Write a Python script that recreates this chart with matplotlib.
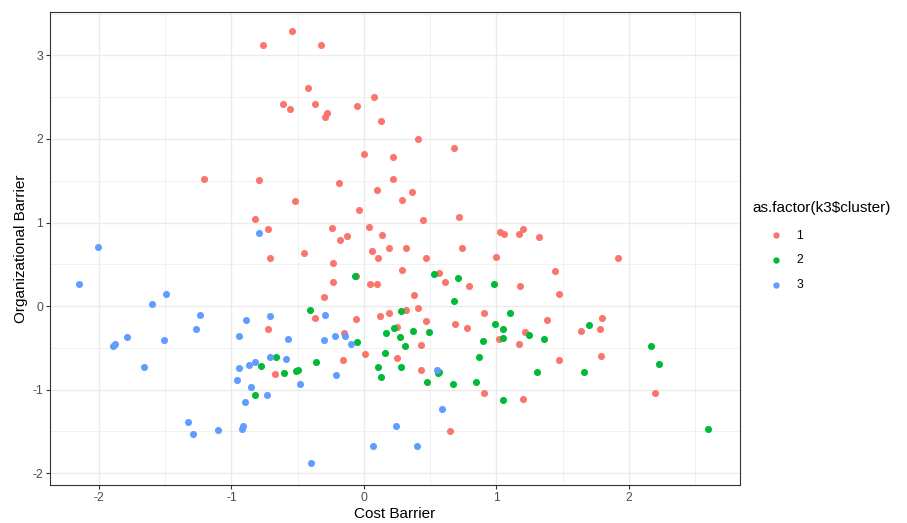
import matplotlib
matplotlib.use("Agg")
import matplotlib.pyplot as plt
from matplotlib.ticker import MultipleLocator

plt.rcParams['font.family'] = ['Liberation Sans', 'DejaVu Sans']
plt.rcParams['axes.unicode_minus'] = False

# cluster 1 (red)
c1_x = [-0.76, -1.21, -0.79, -0.82, -0.72, -0.71, -0.54, -0.32, -0.42, -0.61,
        -0.56, -0.37, -0.28, -0.29, -0.05, 0.08, 0.13, 0.41, 0.68, 0.00,
        0.22, -0.19, 0.22, 0.10, 0.36, 0.29, -0.52, -0.04, 0.45, 0.72,
        -0.24, 0.04, -0.18, -0.13, 0.14, -0.45, 0.06, 0.19, 0.32, 0.74,
        1.03, 1.06, 1.17, 1.20, 1.32, 1.00, 1.92, 0.11, 0.47, -0.23,
        -0.23, -0.06, 0.05, 0.10, 0.29, 0.57, 0.61, 0.79, -0.30, 0.38,
        -0.37, -0.06, 0.12, 0.19, 0.32, 0.41, 0.47, 0.69, 0.78, 0.91,
        1.02, -0.72, -0.15, 0.25, 0.43, 0.01, 0.25, -0.16, -0.67, 0.43,
        0.91, 0.65, 1.44, 1.18, 1.47, 1.38, 1.22, 1.17, 1.64, 1.78,
        1.80, 1.47, 1.79, 1.20, 2.20]
c1_y = [3.12, 1.52, 1.51, 1.04, 0.92, 0.57, 3.29, 3.12, 2.61, 2.42,
        2.36, 2.42, 2.31, 2.26, 2.40, 2.50, 2.22, 2.00, 1.89, 1.82,
        1.78, 1.47, 1.52, 1.39, 1.37, 1.27, 1.26, 1.15, 1.03, 1.07,
        0.94, 0.95, 0.79, 0.84, 0.85, 0.63, 0.66, 0.69, 0.70, 0.70,
        0.89, 0.86, 0.86, 0.92, 0.83, 0.59, 0.58, 0.57, 0.57, 0.52,
        0.29, 0.36, 0.26, 0.27, 0.43, 0.40, 0.29, 0.24, 0.11, 0.13,
        -0.14, -0.16, -0.12, -0.08, -0.05, -0.02, -0.18, -0.22, -0.26, -0.08,
        -0.40, -0.27, -0.32, -0.25, -0.47, -0.57, -0.62, -0.64, -0.81, -0.76,
        -1.04, -1.50, 0.42, 0.24, 0.15, -0.17, -0.31, -0.46, -0.30, -0.27,
        -0.14, -0.64, -0.60, -1.11, -1.04]

# cluster 2 (green)
c2_x = [-0.66, -0.78, -0.82, -0.07, 0.53, 0.71, 0.98, 0.68, -0.41, 0.28,
        0.99, 0.23, 0.17, 0.27, 0.37, 0.49, 0.31, 0.90, 0.16, -0.05,
        -0.36, -0.60, -0.51, -0.50, 0.11, 0.13, 0.28, 0.48, 0.56, 0.57,
        0.67, 0.85, 0.87, 1.10, 1.05, 1.25, 1.05, 1.36, 1.70, 1.31,
        1.66, 2.17, 2.23, 1.05, 2.60]
c2_y = [-0.61, -0.72, -1.07, 0.36, 0.38, 0.34, 0.27, 0.06, -0.05, -0.06,
        -0.21, -0.26, -0.32, -0.37, -0.30, -0.31, -0.48, -0.42, -0.56, -0.43,
        -0.67, -0.80, -0.78, -0.76, -0.73, -0.85, -0.73, -0.91, -0.80, -0.79,
        -0.93, -0.91, -0.61, -0.08, -0.27, -0.35, -0.38, -0.40, -0.23, -0.79,
        -0.79, -0.48, -0.69, -1.13, -1.47]

# cluster 3 (blue)
c3_x = [-0.79, -2.01, -2.15, -1.49, -1.60, -1.24, -1.27, -0.89, -0.71, -1.79,
        -1.89, -1.88, -1.51, -0.94, -1.66, -0.71, -0.94, -0.87, -0.82, -0.96,
        -0.85, -0.73, -0.90, -1.33, -1.29, -1.10, -0.91, -0.92, -0.29, -0.57,
        -0.30, -0.22, -0.14, -0.10, -0.59, -0.21, -0.48, 0.55, 0.59, 0.24,
        0.07, 0.40, -0.40]
c3_y = [0.88, 0.71, 0.26, 0.15, 0.03, -0.11, -0.28, -0.17, -0.12, -0.37,
        -0.48, -0.46, -0.41, -0.36, -0.73, -0.61, -0.74, -0.71, -0.67, -0.89,
        -0.97, -1.07, -1.15, -1.39, -1.53, -1.48, -1.44, -1.47, -0.11, -0.39,
        -0.41, -0.36, -0.36, -0.45, -0.63, -0.83, -0.93, -0.76, -1.23, -1.44,
        -1.67, -1.67, -1.88]

clusters = ['1', '2', '3']
colors = ['#F8766D', '#00BA38', '#619CFF']

fig = plt.figure(figsize=(9.07, 5.23), dpi=100)
ax = fig.add_axes([0.055, 0.073, 0.761, 0.904])

for xs, ys, lab, col in zip([c1_x, c2_x, c3_x], [c1_y, c2_y, c3_y], clusters, colors):
    ax.scatter(xs, ys, s=26, color=col, label=lab, linewidths=0, zorder=3)

ax.set_xlim(-2.37, 2.84)
ax.set_ylim(-2.14, 3.52)
ax.xaxis.set_major_locator(MultipleLocator(1))
ax.yaxis.set_major_locator(MultipleLocator(1))
ax.xaxis.set_minor_locator(MultipleLocator(0.5))
ax.yaxis.set_minor_locator(MultipleLocator(0.5))
ax.grid(which='major', color='#EBEBEB', linewidth=1.0, zorder=0)
ax.grid(which='minor', color='#EBEBEB', linewidth=0.5, zorder=0)
ax.set_axisbelow(True)
ax.tick_params(which='minor', length=0)
ax.tick_params(which='major', length=3, color='#333333', labelsize=8.8, labelcolor='#4D4D4D', width=0.8, pad=2)
for sp in ax.spines.values():
    sp.set_color('#333333')
    sp.set_linewidth(0.8)

ax.set_xlabel('Cost Barrier', fontsize=11, labelpad=2)
ax.set_ylabel('Organizational Barrier', fontsize=11, labelpad=3)

# legend title drawn separately so the keys can sit indented like ggplot
fig.text(752 / 907, 1 - 208 / 523, 'as.factor(k3$cluster)', fontsize=11, ha='left', va='center')
leg = ax.legend(loc='upper left', bbox_to_anchor=(0.830, 0.582), bbox_transform=fig.transFigure,
                frameon=False, fontsize=8.8, markerscale=0.9,
                handletextpad=0.65, labelspacing=1.05)

fig.savefig('out.png', dpi=100)
